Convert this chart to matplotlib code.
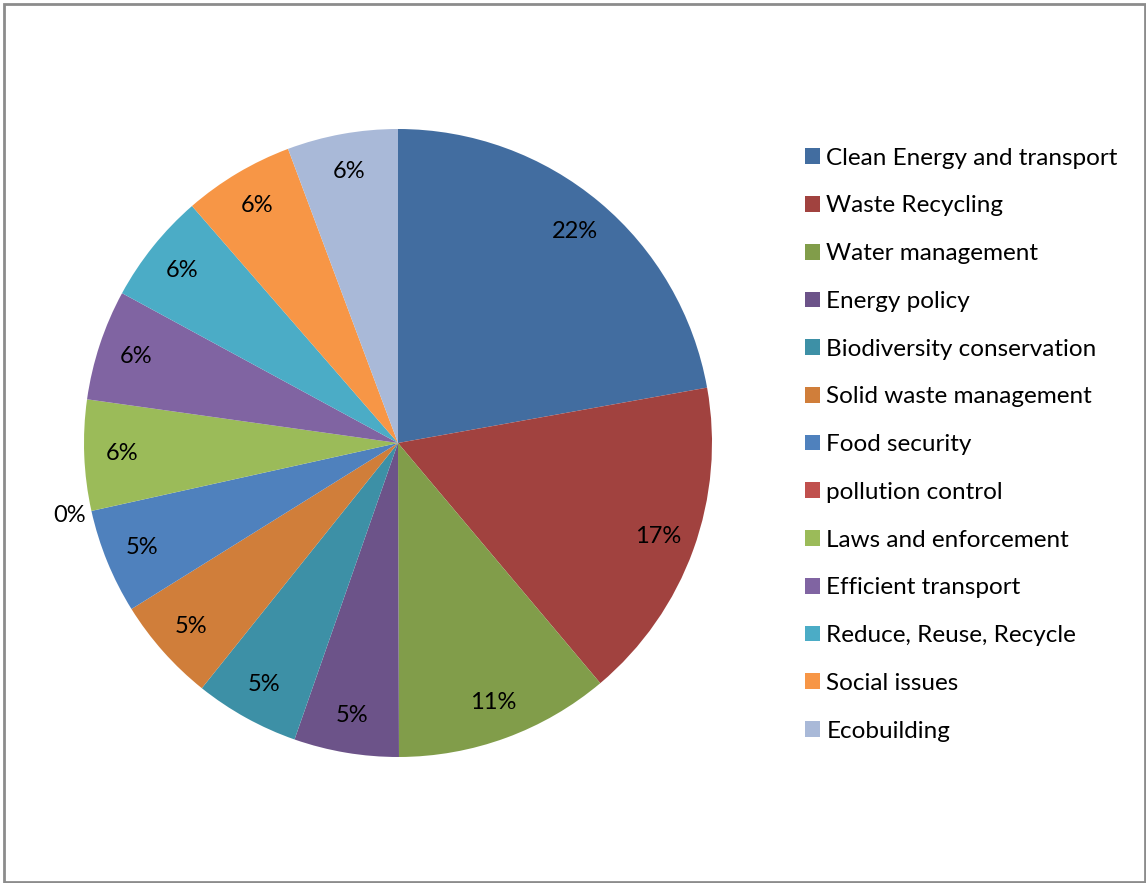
import matplotlib
matplotlib.use('Agg')
import matplotlib.pyplot as plt
from matplotlib.patches import Rectangle, Patch

plt.rcParams['font.family'] = ['Lato', 'DejaVu Sans']

labels = ['Clean Energy and transport', 'Waste Recycling', 'Water management',
          'Energy policy', 'Biodiversity conservation', 'Solid waste management',
          'Food security', 'pollution control', 'Laws and enforcement',
          'Efficient transport', 'Reduce, Reuse, Recycle', 'Social issues',
          'Ecobuilding']
shares = [22.2, 16.7, 11.1, 5.4, 5.4, 5.4, 5.4, 0.0, 5.7, 5.7, 5.7, 5.7, 5.7]
colors = ['#426DA0', '#A1423F', '#819D4A', '#6C5389', '#3D90A6', '#D07E3A',
          '#4F81BD', '#C0504D', '#9BBB59', '#8064A2', '#4BACC6', '#F79646',
          '#A9B9D8']

W, H = 1146, 883
fig = plt.figure(figsize=(W / 100, H / 100), dpi=100)

# chart area border
fig.patches.append(Rectangle((4 / W, 1 / H), 1141 / W, 878 / H, transform=fig.transFigure,
                             fill=False, edgecolor='#8c8c8c', linewidth=2))

cx, cy, r = 398, 443, 314
ax = fig.add_axes([(cx - r) / W, (H - cy - r) / H, 2 * r / W, 2 * r / H])

wedges, texts, autotexts = ax.pie(shares, colors=colors, startangle=90, counterclock=False,
                                  autopct=lambda p: f'{p:.0f}%', pctdistance=0.88,
                                  textprops={'fontsize': 17, 'color': 'black'})
ax.set_xlim(-1, 1)
ax.set_ylim(-1, 1)
ax.set_aspect('equal')
ax.axis('off')

# zero-size slice: put its label just outside the rim
for v, t in zip(shares, autotexts):
    if v == 0:
        x, y = t.get_position()
        t.set_position((x / 0.88 * 1.07, y / 0.88 * 1.07))

handles = [Patch(facecolor=c) for c in colors]
fig.legend(handles, labels, loc='upper left', bbox_to_anchor=(795 / W, 1 - 138 / H),
           frameon=False, fontsize=17.5, handlelength=0.62, handleheight=0.62,
           handletextpad=0.27, labelspacing=1.1, borderaxespad=0)

fig.savefig('out.png', dpi=100)
